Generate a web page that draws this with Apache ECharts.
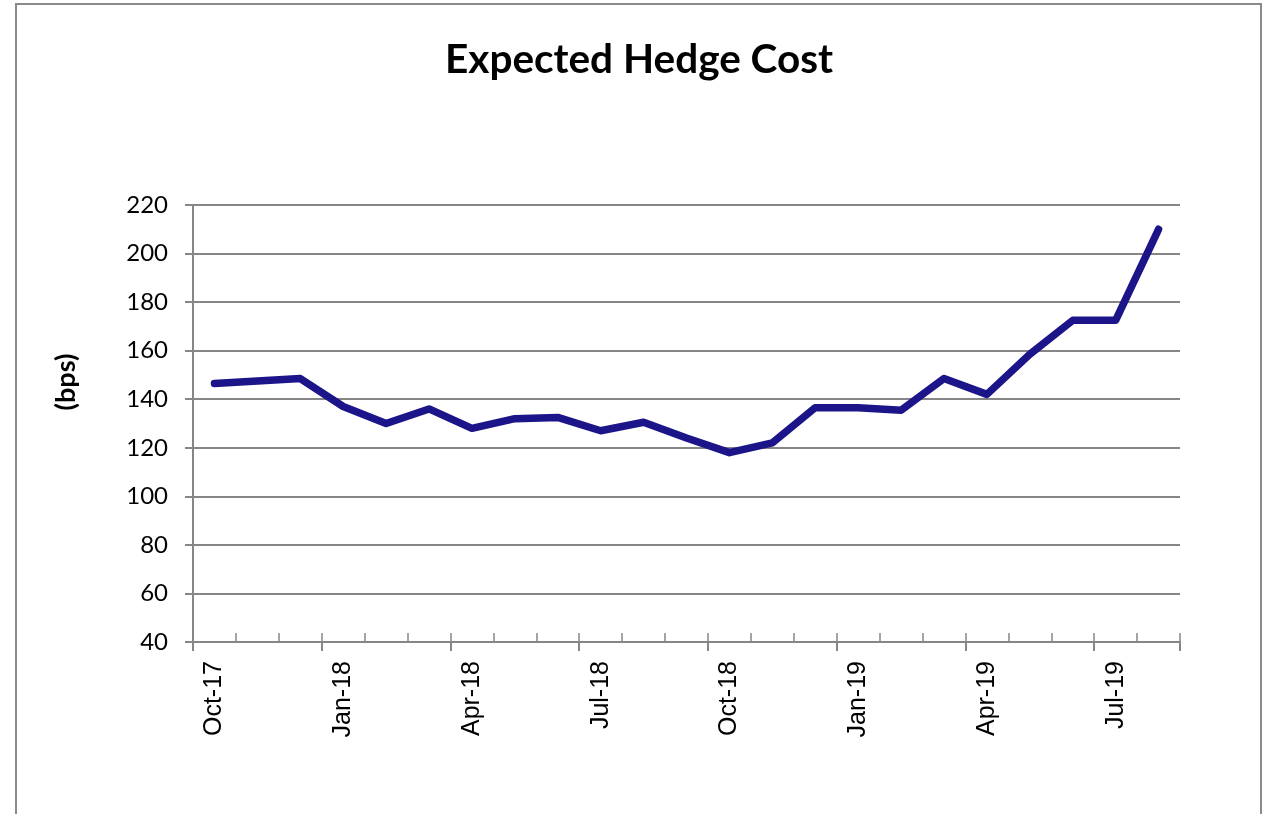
<!DOCTYPE html>
<html>
<head>
<meta charset="utf-8">
<title>Expected Hedge Cost</title>
<script src="https://cdn.jsdelivr.net/npm/echarts@6/dist/echarts.min.js"></script>
<style>
  html, body { margin: 0; padding: 0; background: #ffffff; }
  #chart { width: 1268px; height: 814px; }
</style>
</head>
<body>
<div id="chart"></div>
<script>
// Monthly observations, Oct-17 through Aug-19
const months = [
  'Oct-17', 'Nov-17', 'Dec-17', 'Jan-18', 'Feb-18', 'Mar-18', 'Apr-18', 'May-18',
  'Jun-18', 'Jul-18', 'Aug-18', 'Sep-18', 'Oct-18', 'Nov-18', 'Dec-18', 'Jan-19',
  'Feb-19', 'Mar-19', 'Apr-19', 'May-19', 'Jun-19', 'Jul-19', 'Aug-19'
];
// Expected hedge cost in basis points
const hedgeCost = [
  146.5, 147.5, 148.5, 137, 130, 136, 128, 132,
  132.5, 127, 130.5, 124, 118, 122, 136.5, 136.5,
  135.5, 148.5, 142, 158.5, 172.5, 172.5, 210
];
const yMin = 40, yMax = 220, yStep = 20;
const yTitle = '(bps)';

const axisGrey = '#868686';
const gridLeft = 193, gridTop = 205, gridRight = 88, gridBottom = 172;

const chart = echarts.init(document.getElementById('chart'), null, { renderer: 'canvas' });

chart.setOption({
  backgroundColor: '#ffffff',
  animation: false,
  title: {
    text: 'Expected Hedge Cost',
    left: 440,
    top: 34,
    textStyle: {
      fontFamily: 'Lato',
      fontWeight: 'bold',
      fontSize: 40.5,
      color: '#000000'
    }
  },
  graphic: [{
    type: 'rect',
    shape: { x: 16, y: 4, width: 1245, height: 830 },
    style: { fill: 'none', stroke: '#8a8a8a', lineWidth: 2 },
    silent: true,
    z: -1
  }, {
    // value axis title, set a little above the plot's middle
    type: 'text',
    x: 66,
    y: 382,
    rotation: Math.PI / 2,
    style: {
      text: yTitle,
      fontFamily: 'Lato',
      fontWeight: 'bold',
      fontSize: 27,
      fill: '#000000',
      align: 'center',
      verticalAlign: 'middle'
    },
    silent: true
  }],
  grid: { left: gridLeft, top: gridTop, right: gridRight, bottom: gridBottom, containLabel: false },
  xAxis: [{
    type: 'category',
    data: months,
    boundaryGap: true,
    axisLine: { show: true, lineStyle: { color: axisGrey, width: 2 } },
    axisTick: { show: true, interval: 2, inside: false, length: 9, lineStyle: { color: axisGrey, width: 2 } },
    axisLabel: {
      interval: 2,
      rotate: 90,
      margin: 19,
      fontFamily: 'Liberation Sans',
      fontSize: 25,
      color: '#000000'
    },
    splitLine: { show: false }
  }, {
    // monthly minor ticks pointing into the plot
    type: 'category',
    data: months,
    boundaryGap: true,
    position: 'bottom',
    axisLine: { show: false },
    axisTick: { show: true, interval: 0, inside: true, length: 9, lineStyle: { color: axisGrey, width: 1.5 } },
    axisLabel: { show: false },
    splitLine: { show: false }
  }],
  yAxis: {
    type: 'value',
    min: yMin,
    max: yMax,
    interval: yStep,
    axisLine: { show: true, lineStyle: { color: axisGrey, width: 2 } },
    axisTick: { show: true, inside: false, length: 8, lineStyle: { color: axisGrey, width: 2 } },
    axisLabel: {
      margin: 25,
      fontFamily: 'Lato',
      fontSize: 24,
      color: '#000000'
    },
    splitLine: { show: true, lineStyle: { color: axisGrey, width: 2 } }
  },
  series: [{
    type: 'line',
    data: hedgeCost,
    xAxisIndex: 0,
    showSymbol: false,
    smooth: false,
    lineStyle: { color: '#1c1589', width: 7.5, cap: 'round', join: 'round' },
    z: 5
  }]
});
</script>
</body>
</html>
